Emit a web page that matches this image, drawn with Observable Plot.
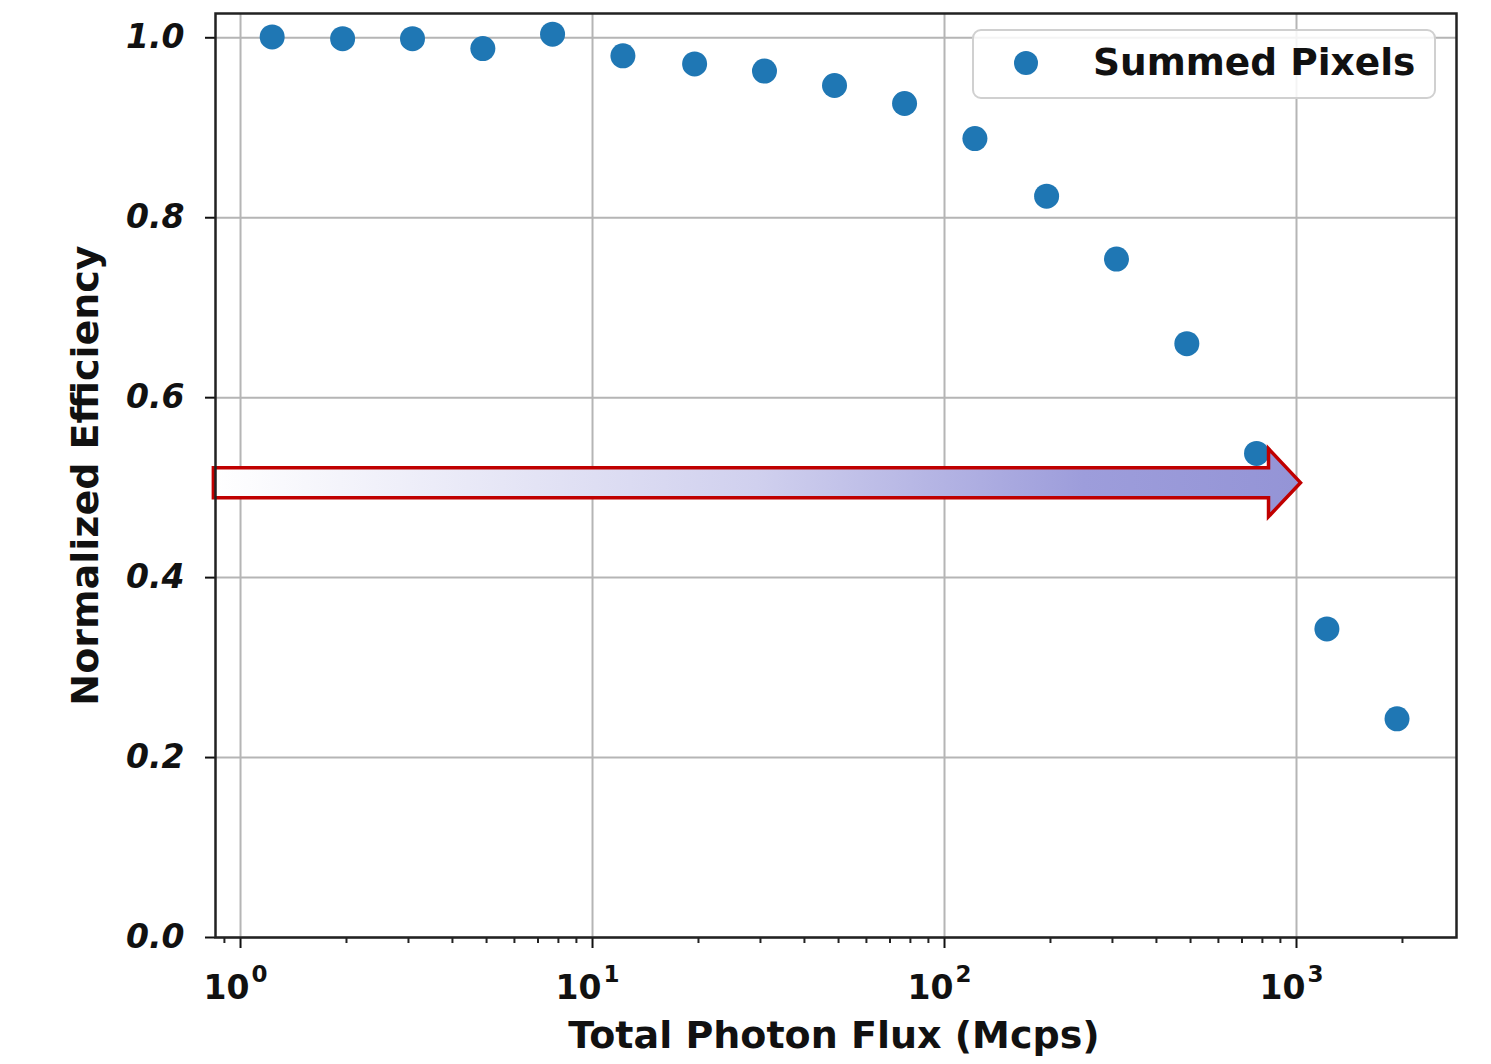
<!DOCTYPE html>
<html><head><meta charset="utf-8">
<script src="https://cdn.jsdelivr.net/npm/d3@7"></script>
<script src="https://cdn.jsdelivr.net/npm/@observablehq/plot@0.6"></script>
<style>body{margin:0;background:#fff}</style>
</head><body><div id="chart"></div>
<script>
// Data
const flux = [1.23, 1.95, 3.08, 4.88, 7.7, 12.2, 19.5, 30.8, 48.7, 77, 122, 195, 308, 488, 770, 1220, 1930];
const efficiency = [1.001, 0.999, 0.999, 0.988, 1.004, 0.980, 0.971, 0.963, 0.947, 0.927, 0.888, 0.824, 0.754, 0.660, 0.538, 0.343, 0.243];
const seriesName = "Summed Pixels";

const xTickValues = [1, 10, 100, 1000];
const xTickBase = ["10", "10", "10", "10"];
const xTickExponents = ["0", "1", "2", "3"];
const xMinorTicks = [0.9, 2, 3, 4, 5, 6, 7, 8, 9, 20, 30, 40, 50, 60, 70, 80, 90, 200, 300, 400, 500, 600, 700, 800, 900, 2000];
const yTickValues = [0, 0.2, 0.4, 0.6, 0.8, 1.0];
const yTickLabels = ["0.0", "0.2", "0.4", "0.6", "0.8", "1.0"];
const xLabel = "Total Photon Flux (Mcps)";
const yLabel = "Normalized Efficiency";

// Annotation arrow (data coordinates)
const arrowX = [0.84, 1030];
const arrowY = 0.505;

const data = flux.map((f, i) => ({flux: f, eff: efficiency[i]}));

const FONT = "DejaVu Sans";

function arrowMark(index, scales, values, dims) {
  const x0 = scales.x(arrowX[0]), x1 = scales.x(arrowX[1]), y = scales.y(arrowY);
  const sh = 15, hh = 34, hl = 32;
  const pts = [[x0, y - sh], [x1 - hl, y - sh], [x1 - hl, y - hh], [x1, y], [x1 - hl, y + hh], [x1 - hl, y + sh], [x0, y + sh]];
  const g = d3.create("svg:g");
  const lg = g.append("defs").append("linearGradient")
    .attr("id", "arrowGrad").attr("gradientUnits", "userSpaceOnUse")
    .attr("x1", x0).attr("x2", x1).attr("y1", 0).attr("y2", 0);
  lg.append("stop").attr("offset", 0).attr("stop-color", "#ffffff");
  lg.append("stop").attr("offset", 0.5).attr("stop-color", "#d0d0ee");
  lg.append("stop").attr("offset", 0.8).attr("stop-color", "#9d9ddb");
  lg.append("stop").attr("offset", 1).attr("stop-color", "#9494d6");
  g.append("polygon")
    .attr("points", pts.map(p => p.join(",")).join(" "))
    .attr("fill", "url(#arrowGrad)")
    .attr("stroke", "#c00000").attr("stroke-width", 3.5).attr("stroke-linejoin", "miter");
  return g.node();
}

function legendMark(index, scales, values, dims) {
  const right = dims.width - dims.marginRight - 21;
  const top = dims.marginTop + 17;
  const w = 462, h = 68;
  const g = d3.create("svg:g");
  g.append("rect").attr("x", right - w).attr("y", top).attr("width", w).attr("height", h)
    .attr("rx", 8).attr("fill", "white").attr("fill-opacity", 0.85)
    .attr("stroke", "#d0d0d0").attr("stroke-width", 2);
  g.append("circle").attr("cx", right - w + 53).attr("cy", top + 33).attr("r", 12).attr("fill", "#1f77b4");
  g.append("text").attr("x", right - w + 120).attr("y", top + 45)
    .attr("text-anchor", "start")
    .attr("font-family", FONT).attr("font-weight", "bold").attr("font-size", 37.5)
    .attr("fill", "#111").text(seriesName);
  return g.node();
}

const chart = Plot.plot({
  width: 1491, height: 1064,
  marginLeft: 215, marginRight: 35, marginTop: 13, marginBottom: 127,
  style: {fontFamily: FONT, background: "white", overflow: "visible"},
  x: {type: "log", domain: [0.849, 2848]},
  y: {domain: [0, 1.027]},
  marks: [
    Plot.gridX(xTickValues, {stroke: "#b5b5b5", strokeOpacity: 1, strokeWidth: 2}),
    Plot.gridY(yTickValues, {stroke: "#b5b5b5", strokeOpacity: 1, strokeWidth: 2}),
    Plot.axisX(xMinorTicks, {tickSize: 6, strokeWidth: 2, stroke: "#222", tickFormat: () => "", label: null}),
    Plot.axisX(xTickValues, {tickSize: 11, strokeWidth: 2, stroke: "#111", tickFormat: () => "", label: null}),
    Plot.text(xTickValues, {x: d => d, text: (d, i) => xTickBase[i], frameAnchor: "bottom", lineAnchor: "top",
      dy: 38, dx: -14, fontSize: 33, fontWeight: "bold", fill: "#111"}),
    Plot.text(xTickValues, {x: d => d, text: (d, i) => xTickExponents[i], frameAnchor: "bottom", lineAnchor: "top",
      dy: 28, dx: 19, fontSize: 23, fontWeight: "bold", fill: "#111"}),
    Plot.axisY(yTickValues, {tickSize: 10, tickPadding: 21, strokeWidth: 2, color: "#111",
      tickFormat: d => yTickLabels[yTickValues.indexOf(d)], fontSize: 33, fontWeight: "bold", fontStyle: "italic", label: null}),
    legendMark,
    Plot.dot(data, {x: "flux", y: "eff", r: 12.5, fill: "#1f77b4"}),
    arrowMark,
    Plot.frame({stroke: "#222", strokeWidth: 2.5}),
    Plot.text([yLabel], {text: d => d, frameAnchor: "left", textAnchor: "middle", dx: -130, rotate: -90, fontSize: 38, fontWeight: "bold", fill: "#111"}),
    Plot.text([xLabel], {text: d => d, frameAnchor: "bottom", textAnchor: "middle", dy: 110, dx: -2, fontSize: 38, fontWeight: "bold", fill: "#111"})
  ]
});
document.getElementById("chart").appendChild(chart);
</script>
</body></html>
